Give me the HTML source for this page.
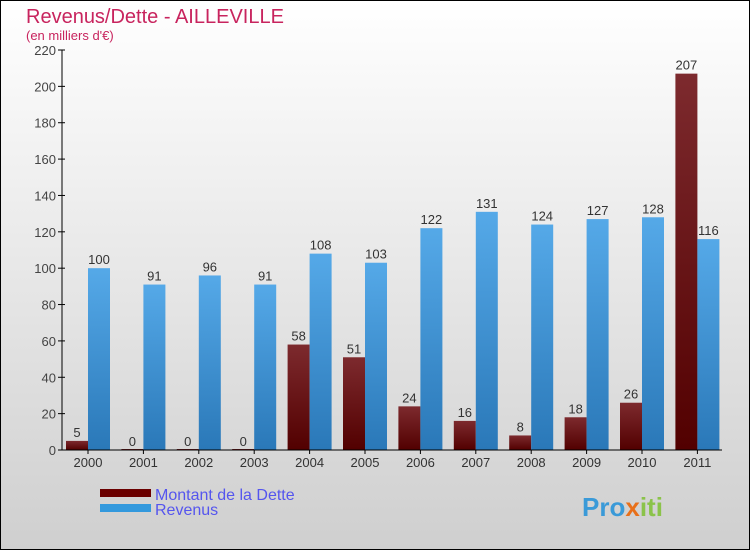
<!DOCTYPE html>
<html><head><meta charset="utf-8"><style>
body{margin:0}
#c{width:750px;height:550px;position:relative;box-sizing:border-box;border:1px solid #000;background:linear-gradient(#fff,#cfcfcf);font-family:"Liberation Sans","DejaVu Sans",sans-serif;overflow:hidden}
</style></head><body>
<div id="c">
<svg id="s" width="750" height="550" style="position:absolute;left:-1px;top:-1px">
<defs>
<linearGradient id="gd" x1="0" y1="0" x2="0" y2="1"><stop offset="0" stop-color="#7d2a2e"/><stop offset="1" stop-color="#520000"/></linearGradient>
<linearGradient id="gr" x1="0" y1="0" x2="0" y2="1"><stop offset="0" stop-color="#55a9e8"/><stop offset="1" stop-color="#2a78b8"/></linearGradient>
</defs>
<text x="26" y="23" font-size="20" fill="#c8245e">Revenus/Dette - AILLEVILLE</text>
<text x="26" y="40" font-size="13" fill="#c8245e">(en milliers d'€)</text>
<g id="g"></g>
<rect x="100" y="489" width="51" height="8" fill="#6b0000"/>
<rect x="100" y="504" width="51" height="8" fill="#3399dd"/>
<text x="155" y="500" font-size="16" fill="#5555ee">Montant de la Dette</text>
<text x="155" y="515" font-size="16" fill="#5555ee">Revenus</text>
<text x="582" y="516" font-size="26" font-weight="bold" fill="#3a9ad8">Pro<tspan fill="#e8701a">x</tspan><tspan fill="#8bc34a">iti</tspan></text>
</svg>
</div>
<script>
const years=["2000","2001","2002","2003","2004","2005","2006","2007","2008","2009","2010","2011"];
const dette=[5,0,0,0,58,51,24,16,8,18,26,207];
const revenus=[100,91,96,91,108,103,122,131,124,127,128,116];
const yTicks=[0,20,40,60,80,100,120,140,160,180,200,220];
const NS="http://www.w3.org/2000/svg",g=document.getElementById('g');
const x0=62,step=55.4,yb=450,ymax=220,ph=400;
const y=v=>yb-v/ymax*ph;
function mk(t,a,txt){const e=document.createElementNS(NS,t);for(const k in a)e.setAttribute(k,a[k]);if(txt!=null)e.textContent=txt;g.appendChild(e);return e;}
yTicks.forEach(v=>{
 const t=mk('line',{x1:x0-4,x2:x0+3,y1:y(v),y2:y(v),stroke:'#000'});
 
 
 const l=mk('text',{x:x0-6,y:y(v)+5,'font-size':13,fill:'#444','text-anchor':'end'},v);
 
 
});
years.forEach((yr,i)=>{
 const gx=x0+i*step;
 const bd=mk('rect',{x:gx+4,y:y(dette[i])-(dette[i]?0:1),width:22,height:Math.max(1,dette[i]/ymax*ph),fill:'url(#gd)'});
 
 
 const br=mk('rect',{x:gx+26,y:y(revenus[i]),width:22,height:revenus[i]/ymax*ph,fill:'url(#gr)'});
 
 
 const ld=mk('text',{x:gx+15,y:y(dette[i])-4,'font-size':13,fill:'#333','text-anchor':'middle'},dette[i]);
 
 
 const lr=mk('text',{x:gx+37,y:y(revenus[i])-4,'font-size':13,fill:'#333','text-anchor':'middle'},revenus[i]);
 
 
 const tk=mk('line',{x1:gx+26,x2:gx+26,y1:yb,y2:yb+4,stroke:'#000'});
 
 
 const xl=mk('text',{x:gx+26,y:yb+17,'font-size':13,fill:'#333','text-anchor':'middle'},yr);
 
 
});
const ya=mk('line',{x1:x0,x2:x0,y1:y(220),y2:yb,stroke:'#000'});


const xa=mk('line',{x1:x0,x2:722,y1:yb,y2:yb,stroke:'#000'});


</script>
</body></html>
